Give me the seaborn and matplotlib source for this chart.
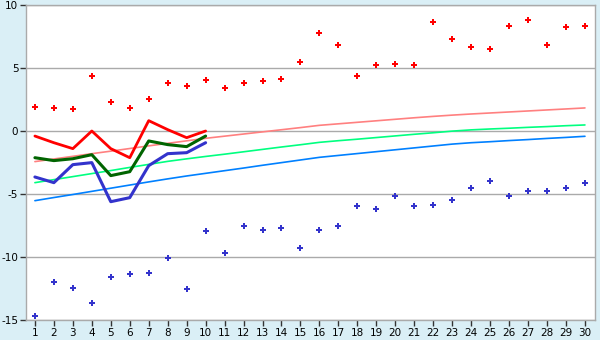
import matplotlib
matplotlib.use("Agg")
import matplotlib.pyplot as plt
import seaborn as sns
import pandas as pd

# x categories
x_all = list(range(1, 31))
x_first = list(range(1, 11))

# scatter series (upper, red) and (lower, blue)
red_points = [1.88, 1.80, 1.72, 4.34, 2.28, 1.80, 2.51, 3.78, 3.54, 4.02,
              3.39, 3.78, 3.94, 4.10, 5.45, 7.75, 6.80, 4.34, 5.21, 5.29,
              5.21, 8.62, 7.28, 6.64, 6.48, 8.31, 8.78, 6.80, 8.23, 8.31]
blue_points = [-14.68, -12.01, -12.49, -13.68, -11.61, -11.38, -11.30, -10.11, -12.57, -7.96,
               -9.71, -7.57, -7.88, -7.72, -9.31, -7.88, -7.57, -5.98, -6.22, -5.19,
               -5.98, -5.90, -5.50, -4.55, -3.99, -5.19, -4.79, -4.79, -4.55, -4.15]

# thick lines for first 10 points
red_line = [-0.40, -0.93, -1.40, 0.00, -1.40, -2.12, 0.82, 0.11, -0.53, 0.00]
green_line = [-2.12, -2.35, -2.20, -1.88, -3.54, -3.23, -0.79, -1.08, -1.24, -0.40]
blue_line = [-3.65, -4.10, -2.67, -2.51, -5.61, -5.29, -2.75, -1.80, -1.72, -0.93]

# thin trend lines
pink_trend = [-2.43, -2.22, -2.01, -1.80, -1.60, -1.39, -1.18, -0.98, -0.78, -0.58,
              -0.41, -0.24, -0.07, 0.10, 0.27, 0.45, 0.57, 0.69, 0.81, 0.93,
              1.05, 1.16, 1.26, 1.35, 1.43, 1.51, 1.59, 1.67, 1.75, 1.83]
green_trend = [-4.10, -3.86, -3.62, -3.38, -3.14, -2.89, -2.65, -2.41, -2.21, -2.02,
               -1.84, -1.65, -1.46, -1.27, -1.09, -0.90, -0.77, -0.65, -0.52, -0.39,
               -0.26, -0.14, -0.01, 0.09, 0.16, 0.22, 0.29, 0.35, 0.42, 0.48]
blue_trend = [-5.53, -5.28, -5.04, -4.79, -4.54, -4.29, -4.04, -3.80, -3.57, -3.36,
              -3.15, -2.94, -2.72, -2.51, -2.30, -2.09, -1.94, -1.79, -1.64, -1.49,
              -1.34, -1.19, -1.04, -0.93, -0.85, -0.76, -0.68, -0.59, -0.51, -0.42]

y_ticks = [-15, -10, -5, 0, 5, 10]

sns.set_style("white")
plt.rcParams['font.family'] = ['DejaVu Sans']

bg = "#daeff6"
fig = plt.figure(figsize=(6, 3.4), dpi=100, facecolor=bg)
ax = fig.add_axes([26/600, 20/340, 569/600, 315/340])
ax.set_facecolor("white")

df_all = pd.DataFrame({"x": x_all, "red": red_points, "blue": blue_points,
                       "pink": pink_trend, "lgreen": green_trend, "lblue": blue_trend})
df_first = pd.DataFrame({"x": x_first, "red": red_line, "green": green_line, "blue": blue_line})

for y in y_ticks:
    ax.axhline(y, color="#aaaaaa", lw=1.0, zorder=0)

sns.lineplot(data=df_all, x="x", y="pink", ax=ax, color="#ff8080", lw=1.2)
sns.lineplot(data=df_all, x="x", y="lgreen", ax=ax, color="#00ff80", lw=1.2)
sns.lineplot(data=df_all, x="x", y="lblue", ax=ax, color="#0080ff", lw=1.2)

sns.lineplot(data=df_first, x="x", y="red", ax=ax, color="#ff0000", lw=2.0)
sns.lineplot(data=df_first, x="x", y="green", ax=ax, color="#006400", lw=2.2)
sns.lineplot(data=df_first, x="x", y="blue", ax=ax, color="#3333cc", lw=2.2)

sns.scatterplot(data=df_all, x="x", y="red", ax=ax, color="#ff0000", marker="P", s=14, linewidth=0)
sns.scatterplot(data=df_all, x="x", y="blue", ax=ax, color="#3333cc", marker="P", s=14, linewidth=0)

ax.set_xlim(0.53, 30.53)
ax.set_ylim(-15, 10)
ax.set_xticks(x_all)
ax.set_xticklabels([str(v) for v in x_all])
ax.set_yticks(y_ticks)
ax.set_yticklabels([str(v) for v in y_ticks])
ax.set_xlabel("")
ax.set_ylabel("")
ax.tick_params(axis="both", which="major", labelsize=7.5, length=4, width=1,
               color="#333333", direction="out", pad=1.5, labelcolor="#000000")
ax.tick_params(axis="x", bottom=True)
ax.tick_params(axis="y", left=True)
for s in ax.spines.values():
    s.set_color("#aaaaaa")
    s.set_linewidth(1.0)

fig.savefig("out.png", dpi=100, facecolor=bg)
